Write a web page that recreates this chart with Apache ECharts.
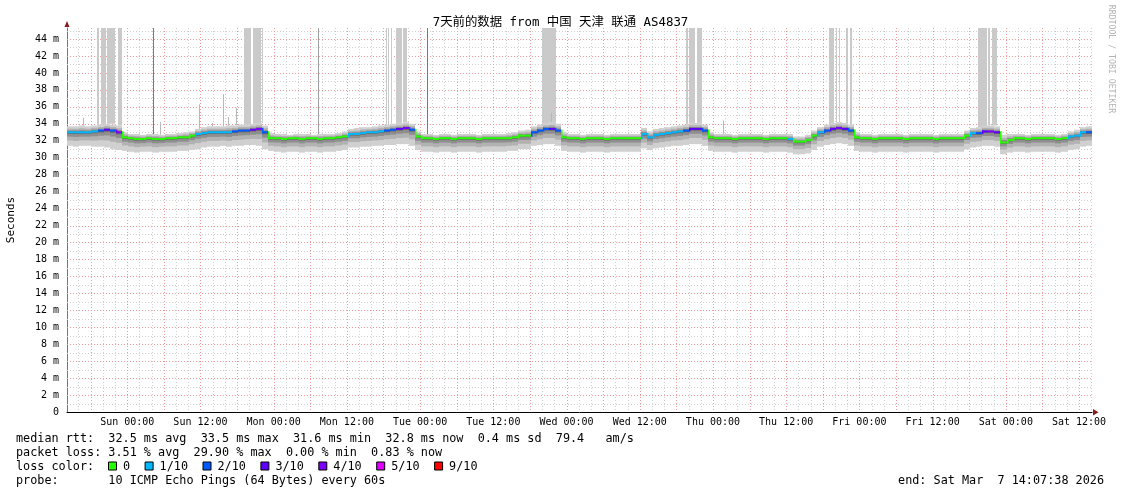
<!DOCTYPE html>
<html><head><meta charset="utf-8">
<script src="https://cdn.jsdelivr.net/npm/echarts@6/dist/echarts.min.js"></script>
<style>html,body{margin:0;padding:0;background:#fff}#c{width:1121px;height:494px}</style>
</head><body><div id="c"></div><script>
// ---- data (hours since start = Sat Feb 28 14:07:38 2026; one value per hour) ----
const TITLE = '7天前的数据 from 中国 天津 联通 AS4837';
const hoursToFirstLabel = 9.8728; // start -> Sun 00:00
const tickLabels = ['Sun 00:00','Sun 12:00','Mon 00:00','Mon 12:00','Tue 00:00','Tue 12:00','Wed 00:00','Wed 12:00','Thu 00:00','Thu 12:00','Fri 00:00','Fri 12:00','Sat 00:00','Sat 12:00'];
const yTicks = [0,2,4,6,8,10,12,14,16,18,20,22,24,26,28,30,32,34,36,38,40,42,44];

const medianRtt = [
 33.0,33.0,33.0,33.0,33.1,33.2,33.3,33.2,33.0,32.4,32.3,32.2,32.2,32.3,32.2,32.2,32.3,32.3,32.4,32.4,32.6,32.8,32.9,33.0,
 33.0,33.0,33.0,33.1,33.2,33.2,33.3,33.4,33.0,32.3,32.3,32.2,32.3,32.3,32.2,32.3,32.3,32.2,32.3,32.3,32.4,32.5,32.8,32.8,
 32.9,33.0,33.0,33.1,33.2,33.3,33.4,33.5,33.3,32.5,32.3,32.3,32.2,32.3,32.3,32.2,32.3,32.3,32.3,32.2,32.3,32.3,32.3,32.3,
 32.3,32.4,32.6,32.6,33.0,33.2,33.4,33.4,33.2,32.4,32.3,32.3,32.2,32.3,32.3,32.3,32.2,32.3,32.3,32.3,32.3,32.3,32.8,32.4,
 32.7,32.8,32.9,33.0,33.1,33.2,33.4,33.4,33.2,32.4,32.3,32.3,32.3,32.2,32.3,32.3,32.3,32.3,32.2,32.3,32.3,32.3,32.2,31.9,
 31.9,32.1,32.6,33.0,33.2,33.4,33.5,33.4,33.2,32.4,32.3,32.3,32.2,32.3,32.3,32.3,32.3,32.2,32.3,32.3,32.3,32.3,32.2,32.3,
 32.3,32.3,32.3,32.6,32.9,32.9,33.1,33.1,33.0,31.8,32.1,32.3,32.3,32.2,32.3,32.3,32.3,32.3,32.2,32.3,32.5,32.6,33.0,33.0
];
const lossLevel = [
 1,1,1,1,1,2,3,2,4,0,0,0,0,0,0,0,0,0,0,0,0,1,1,1,
 1,1,1,2,2,2,3,4,2,0,0,0,0,0,0,0,0,0,0,0,0,0,1,1,
 1,1,1,1,2,2,3,4,2,0,0,0,0,0,0,0,0,0,0,0,0,0,0,0,
 0,0,0,0,2,2,2,3,2,0,0,0,0,0,0,0,0,0,0,0,0,0,1,1,
 1,1,1,1,1,2,3,3,2,0,0,0,0,0,0,0,0,0,0,0,0,0,1,0,
 0,0,0,1,2,3,4,3,2,0,0,0,0,0,0,0,0,0,0,0,0,0,0,0,
 0,0,0,0,1,2,3,4,3,0,0,0,0,0,0,0,0,0,0,0,1,1,1,2
];
const minPing = [
 31.4,31.3,31.4,31.4,31.3,31.3,31.2,31.0,30.9,30.8,30.7,30.6,30.7,30.7,30.6,30.7,30.7,30.7,30.8,30.8,30.9,31.0,31.2,31.3,
 31.3,31.4,31.3,31.4,31.4,31.5,31.5,31.4,31.0,30.8,30.7,30.6,30.7,30.7,30.6,30.7,30.7,30.6,30.7,30.7,30.8,30.9,31.2,31.2,
 31.3,31.3,31.4,31.4,31.5,31.5,31.6,31.6,31.4,30.9,30.7,30.7,30.6,30.7,30.7,30.6,30.7,30.7,30.7,30.6,30.7,30.7,30.7,30.7,
 30.8,30.8,31.0,31.0,31.4,31.5,31.6,31.6,31.4,30.8,30.7,30.7,30.6,30.7,30.7,30.7,30.6,30.7,30.7,30.7,30.7,30.7,31.1,30.9,
 31.1,31.2,31.3,31.4,31.4,31.5,31.6,31.6,31.4,30.8,30.7,30.7,30.7,30.6,30.7,30.7,30.7,30.7,30.6,30.7,30.7,30.7,30.6,30.4,
 30.4,30.5,30.9,31.3,31.5,31.6,31.7,31.6,31.4,30.8,30.7,30.7,30.6,30.7,30.7,30.7,30.7,30.6,30.7,30.7,30.7,30.7,30.6,30.7,
 30.7,30.7,30.7,31.0,31.2,31.3,31.4,31.4,31.3,30.4,30.6,30.7,30.7,30.6,30.7,30.7,30.7,30.7,30.6,30.7,30.9,31.0,31.3,31.4
];
const maxPing = [
 33.7,33.7,33.8,33.7,33.8,33.9,34.0,33.9,33.8,33.0,32.8,32.8,32.7,32.8,32.8,32.7,32.8,32.8,32.9,33.0,33.1,33.4,33.6,33.7,
 33.7,33.7,33.8,33.8,33.9,33.9,34.0,34.1,33.8,32.9,32.8,32.8,32.7,32.8,32.8,32.8,32.7,32.8,32.8,32.8,32.9,33.1,33.4,33.5,
 33.6,33.6,33.7,33.8,33.9,34.0,34.1,34.2,34.0,33.1,32.8,32.8,32.7,32.8,32.8,32.7,32.8,32.8,32.8,32.7,32.8,32.8,32.8,32.8,
 32.9,33.0,33.2,33.3,33.7,33.9,34.1,34.2,34.0,33.0,32.8,32.8,32.7,32.8,32.8,32.8,32.7,32.8,32.8,32.8,32.8,32.8,33.5,33.1,
 33.4,33.5,33.6,33.7,33.8,33.9,34.1,34.1,33.9,33.0,32.8,32.8,32.8,32.7,32.8,32.8,32.8,32.8,32.7,32.8,32.8,32.8,32.8,32.5,
 32.5,32.7,33.2,33.6,33.9,34.1,34.2,34.1,33.9,33.0,32.8,32.8,32.7,32.8,32.8,32.8,32.8,32.7,32.8,32.8,32.8,32.8,32.7,32.8,
 32.8,32.8,32.8,33.2,33.5,33.6,33.8,33.8,33.7,32.7,32.8,32.8,32.8,32.7,32.8,32.8,32.8,32.8,32.7,32.8,33.1,33.3,33.6,33.7
];
// periods where the slowest pings run off the top of the chart: [from hour, to hour, pings off chart]
const offChart = [
 [4.87,5.30,1],[5.57,6.39,1],[6.61,7.92,1],[8.31,9.02,1],[14.13,14.30,3],
 [29.02,30.11,1],[30.44,31.80,1],[31.92,32.02,1],[41.15,41.30,2],
 [52.30,52.51,1],[52.67,52.84,1],[53.07,53.28,1],[53.93,54.87,1],[55.03,55.69,1],[59.08,59.22,3],
 [77.92,80.16,1],
 [101.48,101.85,1],[102.02,102.95,1],[103.23,104.05,1],
 [124.92,125.74,1],[126.02,126.12,1],[126.50,126.62,1],[127.66,127.98,1],[128.36,128.69,1],
 [149.34,150.77,1],[150.98,151.31,1],[151.69,152.41,1]
];
// isolated single slow pings: [hour, rtt ms]
const singleSpikes = [[2.62,34.7],[15.25,34.2],[21.64,36.3],[23.77,34.1],[25.57,37.5],[26.39,34.8],[27.70,35.9],[79.3,35.3],[107.5,34.4]];
const lossLegend = [['0',0],['1/10',1],['2/10',2],['3/10',3],['4/10',4],['5/10',5],['9/10',9]];
const statsLines = [
 'median rtt:  32.5 ms avg  33.5 ms max  31.6 ms min  32.8 ms now  0.4 ms sd  79.4   am/s',
 'packet loss: 3.51 % avg  29.90 % max  0.00 % min  0.83 % now',
 'loss color:',
 'probe:       10 ICMP Echo Pings (64 Bytes) every 60s'
];
const endText = 'end: Sat Mar  7 14:07:38 2026';

// ---- styles ----
const LOSS_COLORS = {0:'#26ff00',1:'#00b8ff',2:'#0059ff',3:'#5e00ff',4:'#7e00ff',5:'#dd00ff',9:'#ff0000'};
const SMOKE = [[1,'#d0d0d0'],[0.6,'#b2b2b2'],[0.32,'#8e8e8e'],[0.12,'#6a6a6a']];
const OFF_COLORS = {1:'#cacaca',2:'#a0a0a0',3:'#7a7a7a'};
const MONO = '"DejaVu Sans Mono", monospace';
const TOTAL_H = 168;

const hours = medianRtt.map((_, i) => i);
const labelHours = tickLabels.map((_, i) => hoursToFirstLabel + 12 * i);
const minorV = []; for (let h = hoursToFirstLabel % 2; h < TOTAL_H; h += 2) minorV.push([h]);
const majorV = []; for (let h = hoursToFirstLabel % 6; h < TOTAL_H; h += 6) majorV.push([h]);
const minorH = []; for (let v = 1; v < 46; v += 2) minorH.push([v]);
const majorH = yTicks.filter(v => v > 0).map(v => [v]);

const chart = echarts.init(document.getElementById('c'), null, {renderer: 'canvas'});

function vLine(color) {
  return function (params, api) {
    const cs = params.coordSys;
    const x = Math.round(api.coord([api.value(0), 0])[0]) + 0.5;
    return {type: 'line', shape: {x1: x, y1: cs.y, x2: x, y2: cs.y + cs.height}, style: {stroke: color, lineWidth: 1, lineDash: [1, 2]}, silent: true};
  };
}
function hLine(color) {
  return function (params, api) {
    const cs = params.coordSys;
    const y = Math.round(api.coord([0, api.value(0)])[1]) + 0.5;
    return {type: 'line', shape: {x1: cs.x, y1: y, x2: cs.x + cs.width, y2: y}, style: {stroke: color, lineWidth: 1, lineDash: [1, 2]}, silent: true};
  };
}

const legendGraphics = [];
const lineY = [438.5, 452.5, 466.5, 480.5];
statsLines.forEach((t, i) => legendGraphics.push({type: 'text', x: 16, y: lineY[i], style: {text: t, font: '11.8px ' + MONO, fill: '#000', verticalAlign: 'middle'}}));
{
  let x = 108;
  const cw = 7.1;
  lossLegend.forEach(([lab, lv]) => {
    legendGraphics.push({type: 'rect', shape: {x: x + 0.5, y: lineY[2] - 4.5, width: 8, height: 8}, style: {fill: LOSS_COLORS[lv], stroke: '#000', lineWidth: 1}});
    legendGraphics.push({type: 'text', x: x + 15, y: lineY[2], style: {text: lab, font: '11.8px ' + MONO, fill: '#000', verticalAlign: 'middle'}});
    x += 15 + lab.length * cw + 14.5;
  });
}
legendGraphics.push({type: 'text', x: 1104, y: lineY[3], style: {text: endText, font: '11.8px ' + MONO, fill: '#000', align: 'right', verticalAlign: 'middle'}});
legendGraphics.push({type: 'text', x: 1111, y: 59, rotation: -Math.PI / 2, style: {text: 'RRDTOOL / TOBI OETIKER', font: '8.2px ' + MONO, fill: '#b4b4b4', align: 'center', verticalAlign: 'middle'}});
legendGraphics.push({type: 'polygon', shape: {points: [[64.5, 27], [69.5, 27], [67, 21]]}, style: {fill: '#8a1c1c'}});
legendGraphics.push({type: 'polygon', shape: {points: [[1093, 409], [1093, 415.5], [1098.5, 412.2]]}, style: {fill: '#8a1c1c'}});

const option = {
  animation: false,
  backgroundColor: '#ffffff',
  title: {text: TITLE, left: 'center', top: 12, textStyle: {fontFamily: '"DejaVu Sans Mono", "Noto Sans CJK SC", monospace', fontSize: 12.4, fontWeight: 'normal', color: '#000'}},
  grid: {left: 67, right: 29, top: 28, bottom: 82, containLabel: false, outerBoundsMode: 'none'},
  xAxis: {
    type: 'value', min: 0, max: TOTAL_H,
    axisLine: {lineStyle: {color: '#000', width: 1}},
    axisTick: {show: false},
    splitLine: {show: false},
    axisLabel: {customValues: labelHours, formatter: v => { const i = labelHours.findIndex(x => Math.abs(x - v) < 1e-6); return i >= 0 ? tickLabels[i] : ''; }, fontFamily: MONO, fontSize: 10, color: '#000', margin: 5}
  },
  yAxis: {
    type: 'value', min: 0, max: 45.3, interval: 2,
    name: 'Seconds', nameLocation: 'middle', nameRotate: 90, nameGap: 50,
    nameTextStyle: {fontFamily: MONO, fontSize: 11, color: '#000'},
    axisLine: {show: true, lineStyle: {color: '#777'}},
    axisTick: {show: false},
    splitLine: {show: false},
    axisLabel: {formatter: v => v === 0 ? '0' : v + ' m', showMaxLabel: false, fontFamily: MONO, fontSize: 10, color: '#000', margin: 8}
  },
  graphic: legendGraphics,
  series: [
    {type: 'custom', name: 'minorV', data: minorV, renderItem: vLine('#d0d0d0'), silent: true, z: 1},
    {type: 'custom', name: 'minorH', data: minorH, renderItem: hLine('#d0d0d0'), silent: true, z: 1},
    {type: 'custom', name: 'majorV', data: majorV, renderItem: vLine('#f09a9a'), silent: true, z: 1},
    {type: 'custom', name: 'majorH', data: majorH, renderItem: hLine('#f09a9a'), silent: true, z: 1},
    {type: 'custom', name: 'offChart', clip: true, z: 2, silent: true,
     data: offChart.map(([a, b, n]) => [a, b, n, maxPing[Math.floor(a)]]),
     renderItem: (params, api) => {
       const cs = params.coordSys;
       const xa = Math.round(api.coord([api.value(0), 0])[0]);
       let xb = Math.round(api.coord([api.value(1), 0])[0]);
       if (xb <= xa) xb = xa + 1;
       const yb = api.coord([0, api.value(3)])[1];
       return {type: 'rect', shape: {x: xa, y: cs.y, width: xb - xa, height: yb - cs.y}, style: {fill: OFF_COLORS[api.value(2)]}};
     }},
    {type: 'custom', name: 'singles', clip: true, z: 2, silent: true,
     data: singleSpikes.map(([h, v]) => [h, v, maxPing[Math.floor(h)]]),
     renderItem: (params, api) => {
       const x = Math.round(api.coord([api.value(0), 0])[0]) + 0.5;
       return {type: 'line', shape: {x1: x, y1: api.coord([0, api.value(1)])[1], x2: x, y2: api.coord([0, api.value(2)])[1]}, style: {stroke: '#b8b8b8', lineWidth: 1}};
     }},
    {type: 'custom', name: 'smoke', clip: true, z: 3, silent: true,
     data: hours.map(i => [i, medianRtt[i], minPing[i], maxPing[i]]),
     renderItem: (params, api) => {
       const h = api.value(0), med = api.value(1), lo = api.value(2), hi = api.value(3);
       const xa = Math.round(api.coord([h, 0])[0]), xb = Math.round(api.coord([h + 1, 0])[0]);
       const children = SMOKE.map(([f, color]) => {
         const top = api.coord([h, med + (hi - med) * f])[1];
         const bot = api.coord([h, med - (med - lo) * f])[1];
         return {type: 'rect', shape: {x: xa, y: top, width: xb - xa, height: bot - top}, style: {fill: color}};
       });
       return {type: 'group', children};
     }},
    {type: 'custom', name: 'median', clip: true, z: 4, silent: true,
     data: hours.map(i => [i, medianRtt[i], lossLevel[i], i > 0 ? medianRtt[i - 1] : medianRtt[i]]),
     renderItem: (params, api) => {
       const h = api.value(0), med = api.value(1), loss = api.value(2), prev = api.value(3);
       const xa = Math.round(api.coord([h, 0])[0]), xb = Math.round(api.coord([h + 1, 0])[0]);
       const y = api.coord([h, med])[1];
       const color = LOSS_COLORS[loss];
       const children = [{type: 'rect', shape: {x: xa, y: y - 1, width: xb - xa, height: 2}, style: {fill: color}}];
       if (Math.abs(prev - med) > 0.15) {
         const yp = api.coord([h, prev])[1];
         children.push({type: 'rect', shape: {x: xa, y: Math.min(y, yp) - 1, width: 1.5, height: Math.abs(y - yp) + 2}, style: {fill: color}});
       }
       return {type: 'group', children};
     }}
  ]
};
[medianRtt, lossLevel, minPing, maxPing].forEach(a => { if (a.length !== TOTAL_H) throw new Error('length ' + a.length); });
chart.setOption(option);
</script></body></html>
